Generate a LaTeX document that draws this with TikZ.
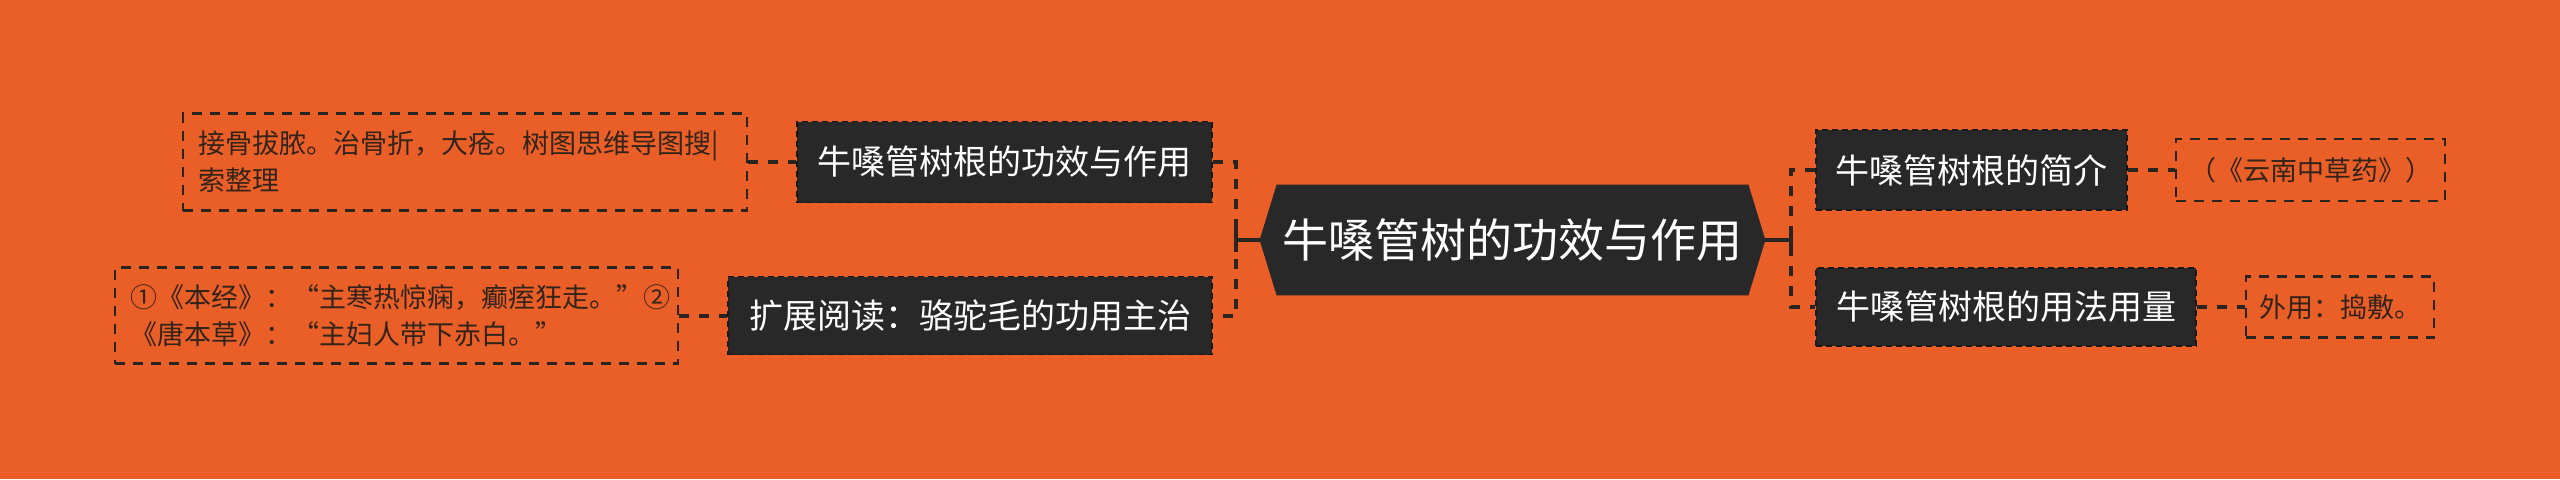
\documentclass[tikz,border=0pt]{standalone}
\usepackage{fontspec}
\setmainfont{Noto Sans CJK SC}
\usetikzlibrary{calc,backgrounds}
\definecolor{bgc}{HTML}{EA5E28}
\definecolor{darkc}{HTML}{282828}
\definecolor{linec}{HTML}{2A2420}
\definecolor{leaftext}{HTML}{33241A}
\begin{document}
\begin{tikzpicture}[x=0.5pt,y=-0.5pt,
  topic/.style={fill=darkc, draw=darkc!60!black, dash pattern=on 3pt off 2pt, line width=0.8pt,
    text=white, font=\fontsize{17pt}{20pt}\selectfont, inner sep=0pt},
  leaf/.style={draw=linec, dash pattern=on 5pt off 4pt, line width=1.1pt, text=leaftext,
    font=\fontsize{13.5pt}{18.5pt}\selectfont, inner sep=0pt},
  conn/.style={draw=linec, line width=2pt, dash pattern=on 5pt off 5pt},
  solidconn/.style={draw=linec, line width=2pt},
]
\useasboundingbox (0,0) rectangle (2560,479);

% central topic
\node[text=white, font=\fontsize{23pt}{28pt}\selectfont, inner sep=0pt,
      minimum width=252.5pt, minimum height=55pt] (c) at (1512.5,240) {牛嗓管树的功效与作用};
\begin{scope}[on background layer]
  \fill[bgc] (0,0) rectangle (2560,479);
  \fill[darkc] (c.west) -- ($(c.north west)+(17,0)$) -- ($(c.north east)+(-17,0)$) -- (c.east)
    -- ($(c.south east)+(-17,0)$) -- ($(c.south west)+(17,0)$) -- cycle;
\end{scope}

% left topics
\node[topic, minimum width=207.5pt, minimum height=40.5pt] (ln1) at (1004.5,162) {牛嗓管树根的功效与作用};
\node[topic, minimum width=242pt, minimum height=39pt] (ln2) at (970,315.5) {扩展阅读：骆驼毛的功用主治};

% right topics
\node[topic, minimum width=155.5pt, minimum height=40pt] (rn1) at (1971.5,170) {牛嗓管树根的简介};
\node[topic, minimum width=190pt, minimum height=39pt] (rn2) at (2006,307) {牛嗓管树根的用法用量};

% leaves
\node[leaf, inner xsep=7.5pt, text width=267pt, align=left, minimum height=48.5pt] (ll1) at (465,162)
  {接骨拔脓。治骨折，大疮。树图思维导图搜|\\索整理};
\node[leaf, inner xsep=7.5pt, text width=266.5pt, align=left, minimum height=48pt] (ll2) at (396.5,315.5)
  {①《本经》：“主寒热惊痫，癫痓狂走。”②\\《唐本草》：“主妇人带下赤白。”};
\node[leaf, minimum width=134.5pt, minimum height=31pt] (rl1) at (2310.5,170) {（《云南中草药》）};
\node[leaf, minimum width=94pt, minimum height=30.5pt] (rl2) at (2340,307) {外用：捣敷。};

% junctions
\coordinate (lj) at (1236,240);
\coordinate (rj) at (1791,240);

% connectors
\draw[solidconn] (c.west) -- (lj) ++(0,-12) -- ++(0,24);
\draw[solidconn] (c.east) -- (rj) ++(0,-12) -- ++(0,24);
\draw[conn] (ln1.east) -- (ln1.east -| lj) -- (ln2.east -| lj) -- (ln2.east);
\draw[conn] (rn1.west) -- (rn1.west -| rj) -- (rn2.west -| rj) -- (rn2.west);
\draw[conn] (ll1.east) -- (ll1.east -| ln1.west);
\draw[conn] (ll2.east) -- (ll2.east -| ln2.west);
\draw[conn] (rn1.east) -- (rn1.east -| rl1.west);
\draw[conn] (rn2.east) -- (rn2.east -| rl2.west);
\end{tikzpicture}
\end{document}
